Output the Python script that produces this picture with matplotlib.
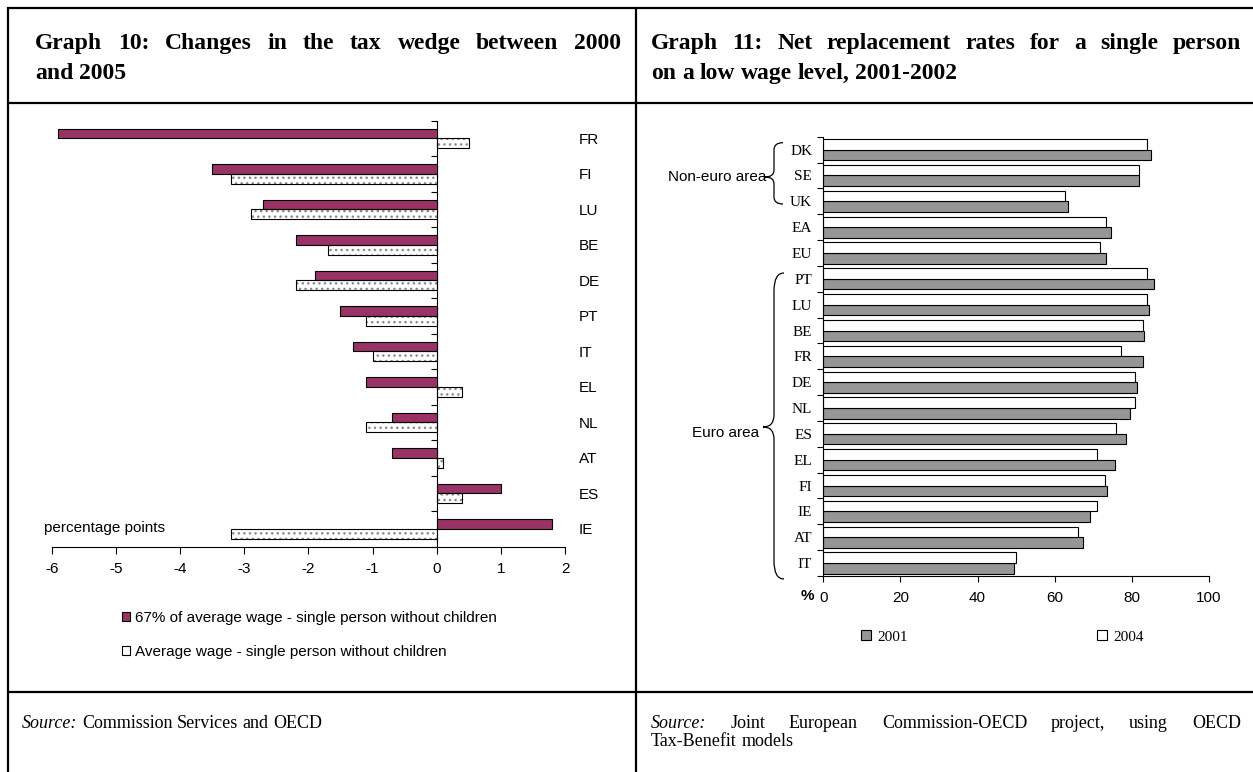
import numpy as np
import matplotlib.pyplot as plt
from matplotlib.path import Path
from matplotlib.patches import PathPatch

plt.rcParams['font.family'] = 'Liberation Sans'
plt.rcParams['axes.unicode_minus'] = False

# Graph 10: change of the tax wedge 2000-2005 (percentage points)
tw_countries = ['FR', 'FI', 'LU', 'BE', 'DE', 'PT', 'IT', 'EL', 'NL', 'AT', 'ES', 'IE']
tw_low_wage = [-5.9, -3.5, -2.7, -2.2, -1.9, -1.5, -1.3, -1.1, -0.7, -0.7, 1.0, 1.8]
tw_avg_wage = [0.5, -3.2, -2.9, -1.7, -2.2, -1.1, -1.0, 0.4, -1.1, 0.1, 0.4, -3.2]
tw_labels = ['67% of average wage - single person without children',
             'Average wage - single person without children']
tw_ticks = list(range(-6, 3))

# Graph 11: net replacement rates, low wage single person (%)
nrr_countries = ['DK', 'SE', 'UK', 'EA', 'EU', 'PT', 'LU', 'BE', 'FR',
                 'DE', 'NL', 'ES', 'EL', 'FI', 'IE', 'AT', 'IT']
nrr_2001 = [84.9, 82.0, 63.4, 74.7, 73.3, 85.7, 84.6, 83.2, 82.9,
            81.4, 79.6, 78.5, 75.6, 73.5, 69.3, 67.4, 49.5]
nrr_2004 = [84.0, 82.0, 62.8, 73.3, 71.9, 84.0, 84.0, 82.9, 77.1,
            80.8, 80.8, 75.9, 71.0, 73.0, 71.0, 66.0, 50.0]
nrr_ticks = [0, 20, 40, 60, 80, 100]

W, H = 1253, 772
fig = plt.figure(figsize=(W / 100, H / 100), dpi=100)


def px_axes(x0, y0, x1, y1):
    ax = fig.add_axes([x0 / W, 1 - y1 / H, (x1 - x0) / W, (y1 - y0) / H])
    ax.patch.set_alpha(0)
    return ax


# page layer in pixel coordinates (table rules, titles, sources, braces)
page = px_axes(0, 0, W, H)
page.set_xlim(0, W)
page.set_ylim(H, 0)
page.axis('off')

rule = dict(color='black', lw=1.6, solid_capstyle='butt')
for yy in (7.5, 102.5, 692):
    page.plot([6.5, W], [yy, yy], **rule)
for xx in (7.5, 636):
    page.plot([xx, xx], [6.5, H], **rule)

renderer = fig.canvas.get_renderer()
serif = 'Liberation Serif'


def words_line(words, x0, y, x1=None, size=12, weight='normal'):
    # words: list of (text, style); justified between x0 and x1 if x1 given
    texts = [page.text(0, y, w, style=s, va='baseline', family=serif,
                       size=size, weight=weight) for w, s in words]
    widths = [t.get_window_extent(renderer).width for t in texts]
    if x1 is None:
        sp = page.text(0, y, 'a a', family=serif, size=size, weight=weight)
        sp2 = page.text(0, y, 'aa', family=serif, size=size, weight=weight)
        gap = sp.get_window_extent(renderer).width - sp2.get_window_extent(renderer).width
        sp.remove()
        sp2.remove()
    else:
        gap = (x1 - x0 - sum(widths)) / (len(texts) - 1)
    x = x0
    for t, w in zip(texts, widths):
        t.set_x(x)
        x += w + gap


def plain(s, style='normal'):
    return [(w, style) for w in s.split()]


# titles
words_line(plain('Graph 10: Changes in the tax wedge between 2000'), 35, 49, 621,
           size=17, weight='bold')
words_line(plain('and 2005'), 35, 79, size=17, weight='bold')
words_line(plain('Graph 11: Net replacement rates for a single person'), 651, 49, 1241,
           size=17, weight='bold')
words_line(plain('on a low wage level, 2001-2002'), 651, 79, size=17, weight='bold')

# sources
words_line([('Source:', 'italic')] + plain('Commission Services and OECD'), 22, 728, size=13)
words_line([('Source:', 'italic')] + plain('Joint European Commission-OECD project, using OECD'),
           651, 728, 1241, size=13)
words_line(plain('Tax-Benefit models'), 651, 746, size=13)

# ---------------- Graph 10 ----------------
ax1 = px_axes(51.8, 120.7, 565.0, 546.7)
pos1 = np.arange(len(tw_countries)) + 0.5
h1 = 0.28
low = ax1.barh(pos1 - h1 / 2, tw_low_wage, height=h1, color='#993366',
               edgecolor='black', lw=0.8, zorder=3)
ax1.barh(pos1 + h1 / 2, tw_avg_wage, height=h1, color='white',
         edgecolor='#8a8a8a', lw=0, hatch='...', zorder=2)
avg = ax1.barh(pos1 + h1 / 2, tw_avg_wage, height=h1, color='none',
               edgecolor='black', lw=0.8, zorder=3)
ax1.set_xlim(-6, 2)
ax1.set_ylim(len(tw_countries), 0)
for side in ('top', 'right'):
    ax1.spines[side].set_visible(False)
ax1.spines['left'].set_position(('data', 0))
ax1.set_xticks(tw_ticks)
ax1.set_yticks(range(len(tw_countries) + 1))
ax1.set_yticks(pos1, tw_countries, minor=True)
ax1.tick_params(axis='x', length=5, labelsize=11, pad=6)
ax1.tick_params(axis='y', which='major', length=4, labelleft=False)
ax1.tick_params(axis='y', which='minor', left=False, right=True, labelleft=False,
                labelright=True, length=0, pad=10, labelsize=11)
page.text(44, 528, 'percentage points', va='center', size=11)
ax1.legend([low, avg], tw_labels, loc='upper left', bbox_to_anchor=(122 / W, 1 - 611 / H),
           bbox_transform=fig.transFigure, frameon=False, borderpad=0, borderaxespad=0,
           handlelength=0.55, handleheight=0.55, handletextpad=0.3, labelspacing=1.3,
           fontsize=11)

# ---------------- Graph 11 ----------------
ax2 = px_axes(823.3, 136.7, 1208.8, 576)
pos2 = np.arange(len(nrr_countries)) + 0.5
h2 = 0.41
b01 = ax2.barh(pos2 + h2 / 2, nrr_2001, height=h2, color='#969696',
               edgecolor='black', lw=0.8)
b04 = ax2.barh(pos2 - h2 / 2, nrr_2004, height=h2, color='white',
               edgecolor='black', lw=0.8)
ax2.set_xlim(0, 100)
ax2.set_ylim(len(nrr_countries), 0)
for side in ('top', 'right'):
    ax2.spines[side].set_visible(False)
ax2.set_xticks(nrr_ticks)
ax2.set_yticks(range(len(nrr_countries) + 1))
ax2.set_yticks(pos2, nrr_countries, minor=True)
ax2.tick_params(axis='x', length=4, labelsize=11, pad=7)
ax2.tick_params(axis='y', which='major', length=4, labelleft=False)
ax2.tick_params(axis='y', which='minor', length=0, pad=8, labelsize=11,
                labelfontfamily=serif)
page.text(807, 596, '%', weight='bold', ha='center', va='center', size=11)
ax2.legend([b01, b04], ['2001', '2004'], ncol=2, loc='center left',
           bbox_to_anchor=(861 / W, 1 - 637 / H), bbox_transform=fig.transFigure,
           frameon=False, borderpad=0, borderaxespad=0, handlelength=0.65,
           handleheight=0.65, handletextpad=0.4, columnspacing=12.4,
           prop={'family': serif, 'size': 11})


def brace(x_tip, y_tip, y_top, y_bot, x_mid, x_end, r_end, r_tip):
    verts = [(x_end, y_top), (x_mid, y_top), (x_mid, y_top + r_end),
             (x_mid, y_tip - r_tip), (x_mid, y_tip), (x_tip, y_tip),
             (x_mid, y_tip), (x_mid, y_tip + r_tip),
             (x_mid, y_bot - r_end), (x_mid, y_bot), (x_end, y_bot)]
    codes = [Path.MOVETO, Path.CURVE3, Path.CURVE3, Path.LINETO, Path.CURVE3,
             Path.CURVE3, Path.CURVE3, Path.CURVE3, Path.LINETO, Path.CURVE3,
             Path.CURVE3]
    page.add_patch(PathPatch(Path(verts, codes), fill=False, lw=0.9, color='black'))


brace(765, 177, 142.7, 204, 774, 783, 7, 7)
brace(763, 427, 273, 579, 774, 784, 18, 12)
page.text(766, 177, 'Non-euro area', ha='right', va='center', size=11)
page.text(759, 433, 'Euro area', ha='right', va='center', size=11)

fig.savefig('out.png', dpi=100)
